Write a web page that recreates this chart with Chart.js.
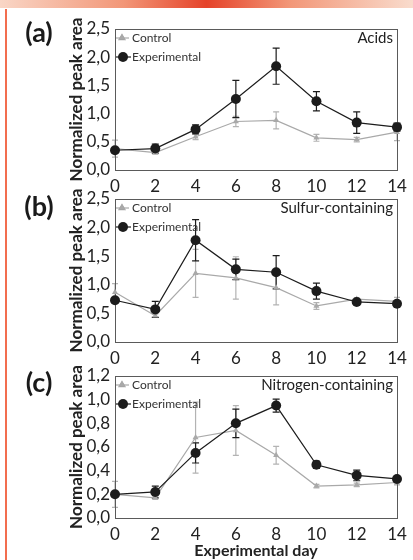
<!DOCTYPE html>
<html lang="en">
<head>
<meta charset="UTF-8">
<title>Normalized peak area</title>
<script src="https://cdn.jsdelivr.net/npm/chart.js"></script>
<style>
  html, body { margin: 0; padding: 0; background: #fff; }
  #page { position: relative; width: 413px; height: 560px; overflow: hidden; }
  #topbar { position: absolute; left: 0; top: 0; width: 413px; height: 8px;
    background: linear-gradient(to right, #f9d6c6 0%, #f29677 30%, #e5432a 50%, #f29677 70%, #f9dccd 100%); }
  #sideline { position: absolute; left: 5px; top: 9px; width: 2px; height: 551px; background: #f26d4f; }
  canvas { position: absolute; left: 0; top: 0; }
</style>
</head>
<body>
<div id="page">
  <div id="topbar"></div>
  <div id="sideline"></div>
  <canvas id="chartA" width="413" height="560"></canvas>
  <canvas id="chartB" width="413" height="560"></canvas>
  <canvas id="chartC" width="413" height="560"></canvas>
</div>
<script>
// days on the x axis
const days = [0, 2, 4, 6, 8, 10, 12, 14];

// (a) Acids
const expA     = [0.35, 0.38, 0.72, 1.26, 1.84, 1.22, 0.84, 0.76];
const expAErr  = [0.03, 0.08, 0.08, 0.33, 0.32, 0.17, 0.19, 0.07];
const ctrlA    = [0.38, 0.31, 0.59, 0.86, 0.88, 0.57, 0.54, 0.67];
const ctrlAErr = [0.15, 0.03, 0.05, 0.09, 0.15, 0.06, 0.04, 0.15];

// (b) Sulfur-containing
const expB     = [0.73, 0.57, 1.78, 1.27, 1.22, 0.89, 0.70, 0.67];
const expBErr  = [0.02, 0.14, 0.36, 0.18, 0.29, 0.14, 0.02, 0.02];
const ctrlB    = [0.87, 0.46, 1.20, 1.12, 0.95, 0.63, 0.75, 0.71];
const ctrlBErr = [0.15, 0.03, 0.42, 0.37, 0.30, 0.06, 0.02, 0.07];

// (c) Nitrogen-containing
const expC     = [0.20, 0.22, 0.55, 0.80, 0.95, 0.45, 0.36, 0.33];
const expCErr  = [0.01, 0.05, 0.085, 0.12, 0.055, 0.03, 0.045, 0.02];
const ctrlC    = [0.20, 0.17, 0.68, 0.74, 0.53, 0.27, 0.28, 0.30];
const ctrlCErr = [0.11, 0.01, 0.30, 0.21, 0.075, 0.015, 0.015, 0.02];

// tick labels
const yTicksAB = ['0,0', '0,5', '1,0', '1,5', '2,0', '2,5'];
const yTicksC  = ['0,0', '0,2', '0,4', '0,6', '0,8', '1,0', '1,2'];

const BLACK = '#1c1c1c';
const GRAY = '#a9a9a9';
const FONT = 'Lato';

// error bars, drawn under the lines
const errorBars = {
  id: 'errorBars',
  beforeDatasetsDraw(chart) {
    const { ctx, scales: { x, y } } = chart;
    ctx.save();
    for (let di = chart.data.datasets.length - 1; di >= 0; di--) {
      const ds = chart.data.datasets[di];
      ctx.strokeStyle = ds.errColor;
      ctx.lineWidth = 1.2;
      ds.data.forEach((p, i) => {
        const px = x.getPixelForValue(p.x);
        const top = y.getPixelForValue(p.y + ds.err[i]);
        const bot = y.getPixelForValue(p.y - ds.err[i]);
        const c = ds.capHalf;
        ctx.beginPath();
        ctx.moveTo(px, top); ctx.lineTo(px, bot);
        ctx.moveTo(px - c, top); ctx.lineTo(px + c, top);
        ctx.moveTo(px - c, bot); ctx.lineTo(px + c, bot);
        ctx.stroke();
      });
    }
    ctx.restore();
  }
};

// frame, panel title, inner legend and panel letter
const panelDecor = {
  id: 'panelDecor',
  beforeDatasetsDraw(chart) {
    const { ctx, chartArea: a } = chart;
    ctx.save();
    ctx.strokeStyle = '#5a5a5a';
    ctx.lineWidth = 1;
    ctx.strokeRect(a.left + 0.5, a.top + 0.5, a.right - a.left, a.bottom - a.top);
    ctx.restore();
  },
  afterDraw(chart, args, opts) {
    const { ctx, chartArea: a } = chart;
    ctx.save();
    ctx.fillStyle = '#222';
    ctx.textBaseline = 'middle';

    ctx.font = '15px ' + FONT;
    ctx.textAlign = 'right';
    ctx.fillText(opts.title, a.right - 4, a.top + 9);

    // legend: Control first, Experimental second
    const ctrl = chart.data.datasets[1];
    const exp = chart.data.datasets[0];
    const lx = a.left + 1;
    let ly = a.top + 9;
    ctx.strokeStyle = ctrl.borderColor;
    ctx.lineWidth = 1.2;
    ctx.beginPath(); ctx.moveTo(lx, ly); ctx.lineTo(lx + 13, ly); ctx.stroke();
    Chart.helpers.drawPoint(ctx, { pointStyle: 'triangle', radius: 3.5, borderWidth: 1 }, lx + 6, ly);
    ctx.fillStyle = ctrl.backgroundColor;
    ctx.fill();
    ly = a.top + 28;
    ctx.strokeStyle = exp.borderColor;
    ctx.beginPath(); ctx.moveTo(lx, ly); ctx.lineTo(lx + 15, ly); ctx.stroke();
    ctx.fillStyle = exp.backgroundColor;
    ctx.beginPath(); ctx.arc(lx + 7, ly, 5, 0, Math.PI * 2); ctx.fill();

    ctx.fillStyle = '#333';
    ctx.font = '12px ' + FONT;
    ctx.textAlign = 'left';
    ctx.fillText(ctrl.label, lx + 16, a.top + 9);
    ctx.fillText(exp.label, lx + 16, a.top + 28);

    ctx.fillStyle = '#1a1a1a';
    ctx.font = 'bold 27px ' + FONT;
    ctx.textAlign = 'center';
    ctx.fillText(opts.letter, 39, opts.letterY);
    ctx.restore();
  }
};

function makePanel(id, p) {
  const xh = p.xTitle ? 42 : 30;
  return new Chart(document.getElementById(id), {
    type: 'line',
    data: {
      datasets: [
        {
          label: 'Experimental',
          data: days.map((d, i) => ({ x: d, y: p.exp[i] })),
          err: p.expErr, errColor: BLACK, capHalf: 3.5,
          borderColor: BLACK, backgroundColor: BLACK, borderWidth: 1.2,
          pointStyle: 'circle', pointRadius: 5, pointBorderWidth: 0,
          tension: 0, clip: false
        },
        {
          label: 'Control',
          data: days.map((d, i) => ({ x: d, y: p.ctrl[i] })),
          err: p.ctrlErr, errColor: '#b3b3b3', capHalf: 3,
          borderColor: GRAY, backgroundColor: GRAY, borderWidth: 1.2,
          pointStyle: 'triangle', pointRadius: 3.5, pointBorderWidth: 0,
          tension: 0, clip: false
        }
      ]
    },
    options: {
      responsive: false,
      animation: false,
      events: [],
      layout: { padding: { top: p.top, left: 66, right: 16, bottom: 560 - p.bottom - xh } },
      plugins: {
        legend: { display: false },
        tooltip: { enabled: false },
        panelDecor: { title: p.title, letter: p.letter, letterY: p.letterY }
      },
      scales: {
        x: {
          type: 'linear', min: 0, max: 14,
          ticks: { stepSize: 2, padding: 6, color: '#222', font: { family: FONT, size: 17 }, maxRotation: 0 },
          grid: { display: false, drawTicks: false },
          border: { display: false },
          title: {
            display: !!p.xTitle, text: p.xTitle || '', color: '#222', padding: 0,
            font: { family: FONT, size: 16, weight: 'bold' }
          },
          afterFit: s => { s.height = xh; }
        },
        y: {
          min: 0, max: p.yMax,
          ticks: { stepSize: p.step, padding: 5, color: '#222', font: { family: FONT, size: 17 },
            callback: (v, i) => p.yTicks[i] },
          grid: { display: false, drawTicks: false },
          border: { display: false },
          title: {
            display: true, text: 'Normalized peak area', color: '#222', padding: 0,
            font: { family: FONT, size: 17, weight: 'bold' }
          },
          afterFit: s => { s.width = 49; }
        }
      }
    },
    plugins: [errorBars, panelDecor]
  });
}

makePanel('chartA', { exp: expA, expErr: expAErr, ctrl: ctrlA, ctrlErr: ctrlAErr,
  yMax: 2.5, step: 0.5, yTicks: yTicksAB, top: 29, bottom: 170,
  title: 'Acids', letter: '(a)', letterY: 33 });
makePanel('chartB', { exp: expB, expErr: expBErr, ctrl: ctrlB, ctrlErr: ctrlBErr,
  yMax: 2.5, step: 0.5, yTicks: yTicksAB, top: 199, bottom: 342,
  title: 'Sulfur-containing', letter: '(b)', letterY: 207 });
makePanel('chartC', { exp: expC, expErr: expCErr, ctrl: ctrlC, ctrlErr: ctrlCErr,
  yMax: 1.2, step: 0.2, yTicks: yTicksC, top: 376, bottom: 518,
  title: 'Nitrogen-containing', letter: '(c)', letterY: 383, xTitle: 'Experimental day' });
</script>
</body>
</html>
